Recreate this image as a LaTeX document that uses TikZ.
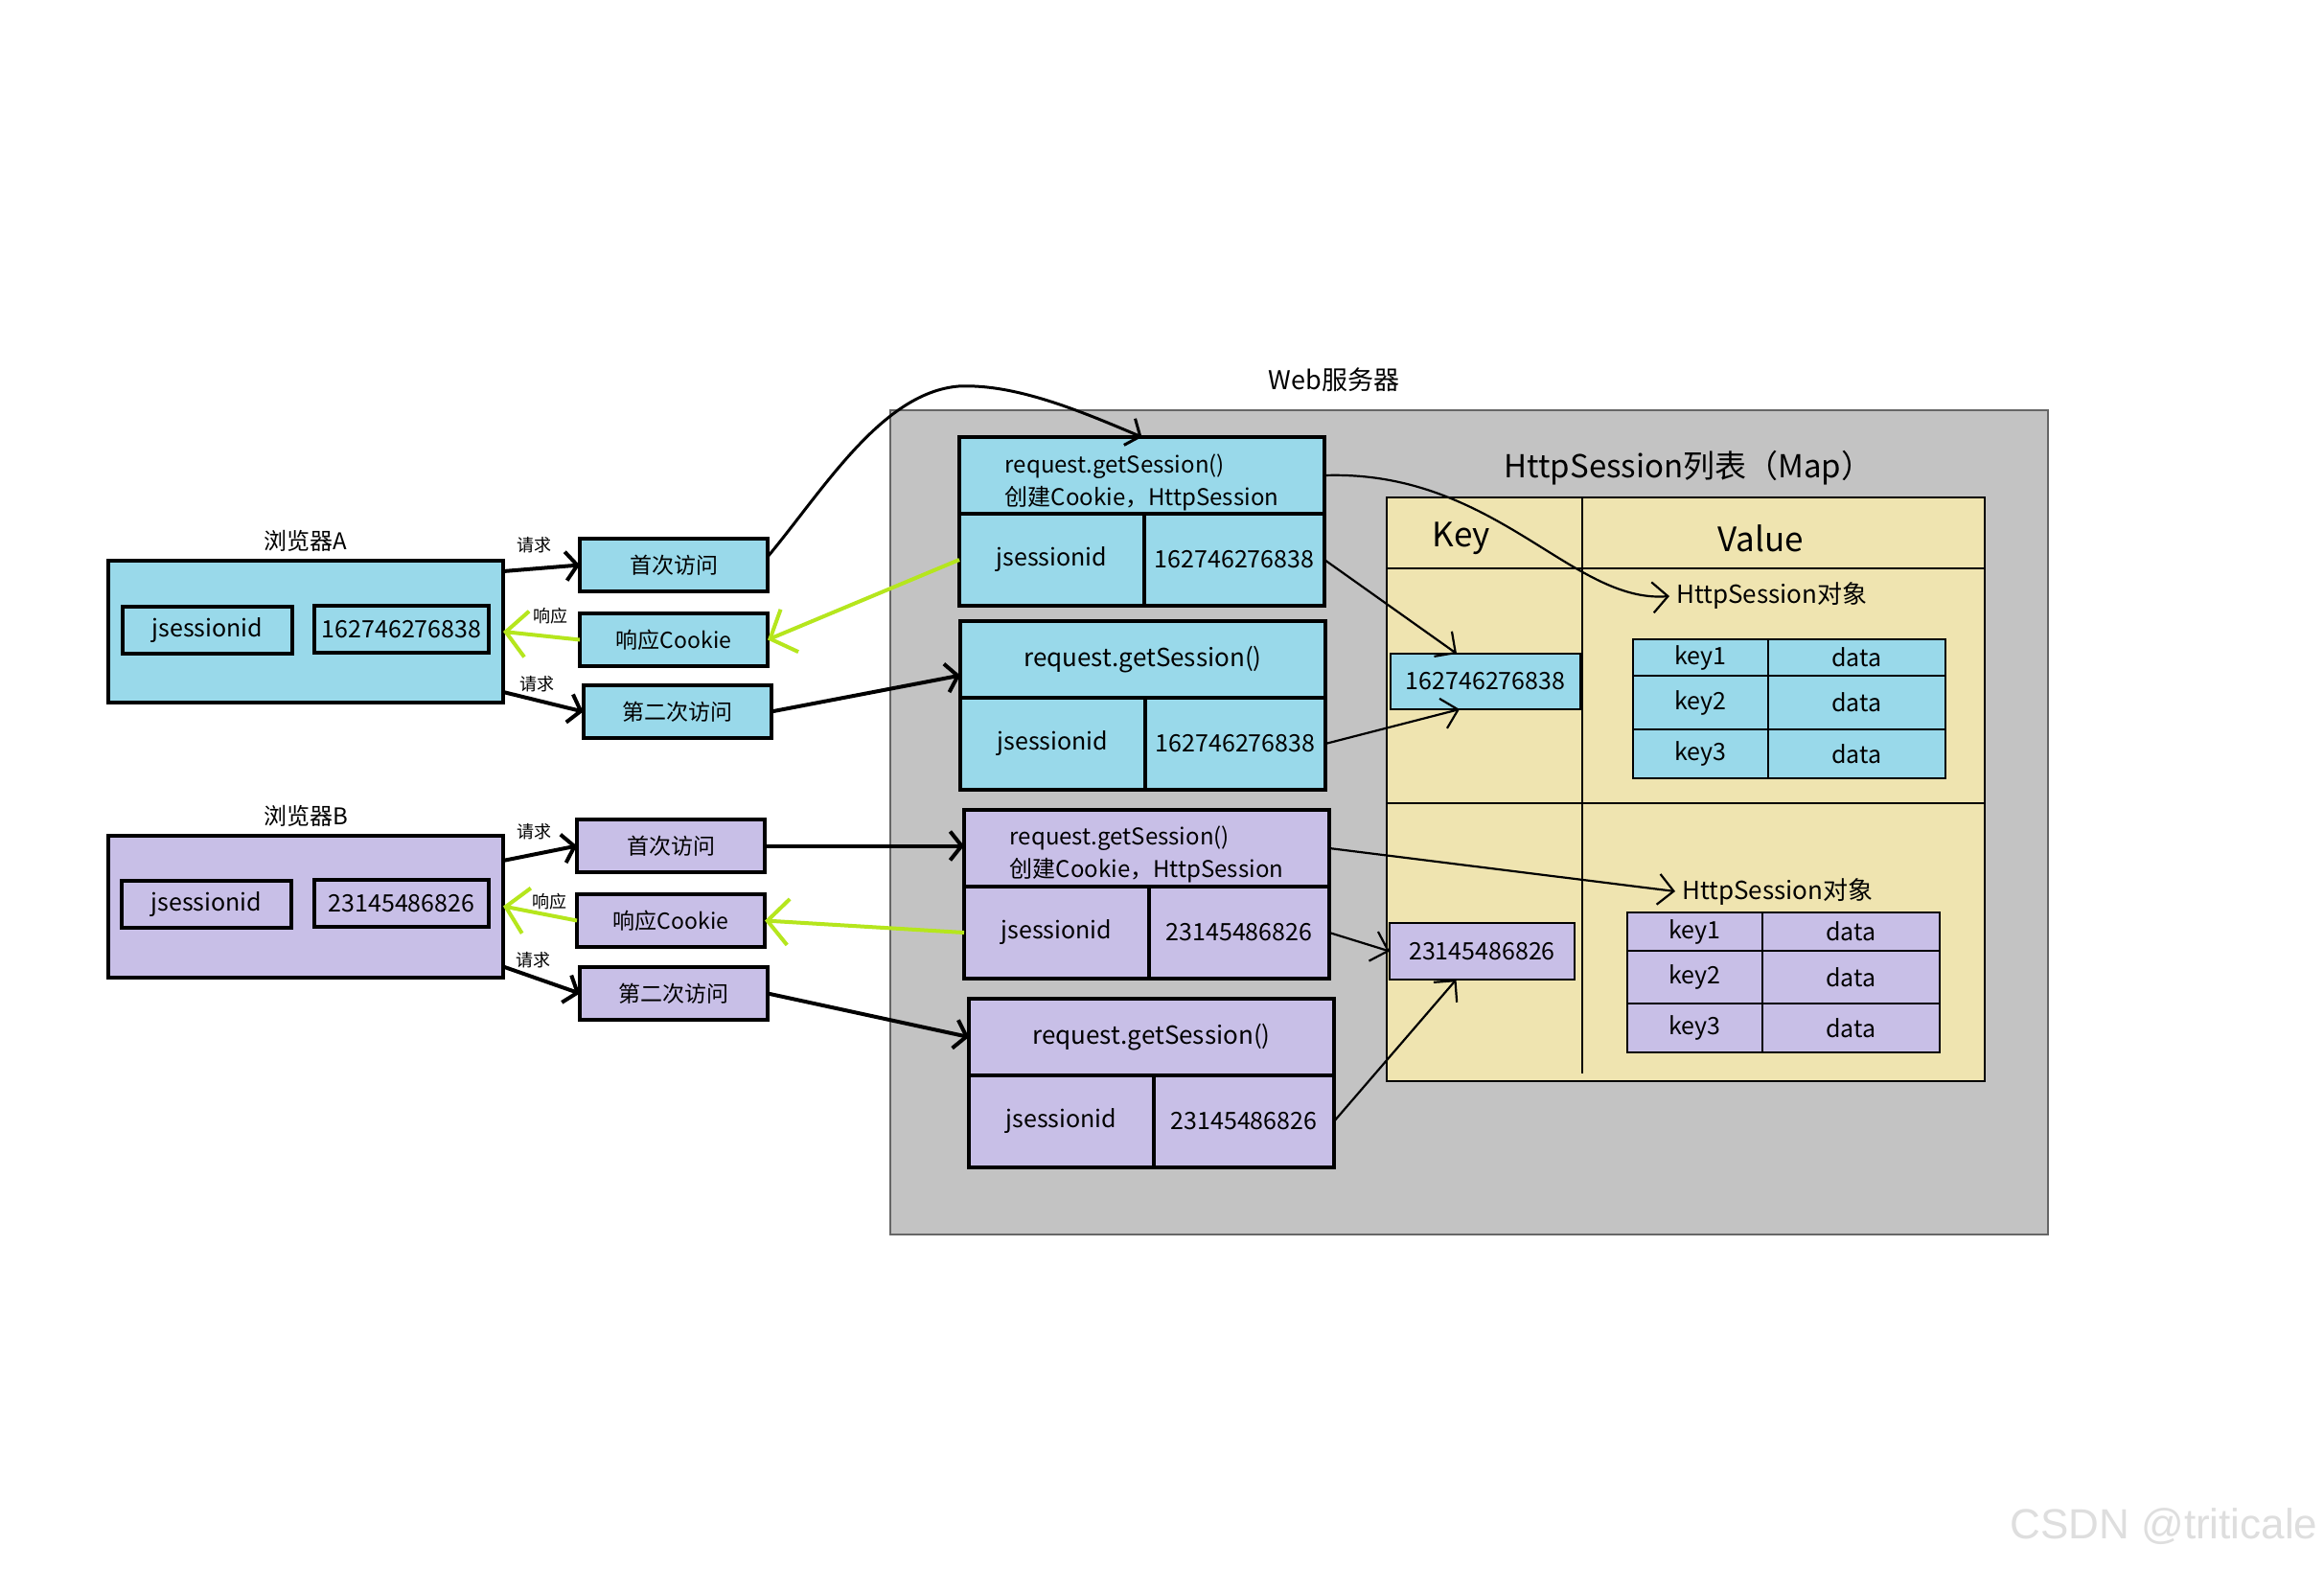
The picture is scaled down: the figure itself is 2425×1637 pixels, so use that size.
\documentclass[tikz,border=0pt]{standalone}
\usepackage{fontspec}
\setmainfont{Noto Sans CJK SC}
\newfontfamily\markfont{Liberation Sans}
\usepackage{tikz}
\usetikzlibrary{positioning,arrows.meta,calc}

\definecolor{pblue}{HTML}{99D9EA}
\definecolor{ppurple}{HTML}{C8BFE7}
\definecolor{pgray}{HTML}{C3C3C3}
\definecolor{pcream}{HTML}{EFE4B0}
\definecolor{plime}{HTML}{B5E61D}

\begin{document}
\begin{tikzpicture}[
    x=0.5pt, y=-0.5pt,
    font=\fontsize{12.5}{15}\selectfont,
    box/.style={draw, line width=2pt, outer sep=0pt, inner sep=0pt, align=center},
    abox/.style={box, fill=pblue},
    bbox/.style={box, fill=ppurple},
    browser/.style={minimum width=206pt, minimum height=74pt},
    idbox/.style={minimum width=88.5pt, minimum height=24.5pt},
    numbox/.style={minimum width=91pt, minimum height=24.5pt},
    visit/.style={minimum width=98pt, minimum height=27.5pt, font=\fontsize{11.5}{14}\selectfont},
    head/.style={anchor=north west, minimum width=190.5pt, minimum height=40pt},
    idcell/.style={anchor=north west, minimum width=96.5pt, minimum height=48pt},
    numcell/.style={anchor=north west, minimum width=94pt, minimum height=48pt},
    thinbox/.style={draw, line width=0.7pt, outer sep=0pt, inner sep=0pt, align=center},
    kcol/.style={thinbox, anchor=north west, minimum width=70.5pt},
    dcol/.style={thinbox, anchor=north west, minimum width=92.5pt},
    tag/.style={font=\fontsize{9}{11}\selectfont, inner sep=1pt},
    req/.style={-{Straight Barb[length=6pt,width=15pt]}, line width=2pt},
    resp/.style={-{Straight Barb[length=11pt,width=24pt]}, line width=2pt, plime},
    link/.style={-{Straight Barb[length=8pt,width=16pt]}, line width=1.1pt},
    bigtext/.style={font=\fontsize{17.5}{20}\selectfont},
  ]
  \fill[white] (0,0) rectangle (2425,1637);
  \useasboundingbox (0,0) rectangle (2425,1637);

  % --- web server area ---
  \node[fill=pgray, draw=black!60, line width=0.6pt, anchor=north west, inner sep=0pt,
        outer sep=0pt, minimum width=604pt, minimum height=430pt] (server) at (929,428) {};
  \node[font=\fontsize{13.5}{16}\selectfont] (webname) at (1392,396) {Web服务器};

  % --- HttpSession map ---
  \node[fill=pcream, draw, line width=0.7pt, anchor=north west, inner sep=0pt,
        outer sep=0pt, minimum width=312pt, minimum height=304.5pt] (map) at (1447,519) {};
  \draw[line width=0.7pt] ($(map.north west)+(0,74)$) -- ($(map.north east)+(0,74)$);
  \draw[line width=0.7pt] ($(map.north west)+(0,319)$) -- ($(map.north east)+(0,319)$);
  \draw[line width=0.7pt] ($(map.north west)+(204,0)$) -- ($(map.north west)+(204,601)$);
  \node[bigtext, font=\fontsize{16.5}{20}\selectfont] (maptitle) at (1762,488) {HttpSession列表（Map）};
  \node[bigtext] (keyhead) at (1525,562) {Key};
  \node[bigtext] (valhead) at (1837,562) {Value};

  % --- browser A ---
  \node[abox, browser] (bA) at (319,659) {};
  \node[above=1pt of bA, font=\fontsize{12}{14}\selectfont] (bAname) {浏览器A};
  \node[abox, idbox] (bAid) at (216.5,657.5) {jsessionid};
  \node[abox, numbox] (bAnum) at (419,656.5) {162746276838};

  \node[abox, visit] (fA) at (703,589.5) {首次访问};
  \node[abox, visit] (rA) at (703,667.5) {响应Cookie};
  \node[abox, visit] (sA) at (706.5,742.5) {第二次访问};
  \node[tag] (tA1) at (557,569) {请求};
  \node[tag] (tA2) at (574,643) {响应};
  \node[tag] (tA3) at (560,714) {请求};

  % --- browser B ---
  \node[bbox, browser] (bB) at (319,945.5) {};
  \node[above=1pt of bB, font=\fontsize{12}{14}\selectfont] (bBname) {浏览器B};
  \node[bbox, idbox] (bBid) at (215.5,943.5) {jsessionid};
  \node[bbox, numbox] (bBnum) at (419,942.5) {23145486826};

  \node[bbox, visit] (fB) at (700,882.5) {首次访问};
  \node[bbox, visit] (rB) at (700,960.5) {响应Cookie};
  \node[bbox, visit] (sB) at (703,1036.5) {第二次访问};
  \node[tag] (tB1) at (557,868) {请求};
  \node[tag] (tB2) at (573,941) {响应};
  \node[tag] (tB3) at (556,1002) {请求};

  % --- sessions on the server, A ---
  \node[abox, head, align=left, font=\fontsize{12}{17}\selectfont] (a1) at (1001,456)
    {\rule{0pt}{17.5pt}request.getSession()\\创建Cookie，HttpSession};
  \node[abox, idcell] (a1id) at (a1.south west) {jsessionid};
  \node[abox, numcell] (a1num) at (a1id.north east) {162746276838};

  \node[abox, head, font=\fontsize{13}{16}\selectfont] (a2) at (1002,648) {request.getSession()};
  \node[abox, idcell] (a2id) at (a2.south west) {jsessionid};
  \node[abox, numcell] (a2num) at (a2id.north east) {162746276838};

  % --- sessions on the server, B ---
  \node[bbox, head, align=left, font=\fontsize{12}{17}\selectfont] (b1) at (1006,845)
    {\rule{0pt}{16pt}request.getSession()\\创建Cookie，HttpSession};
  \node[bbox, idcell] (b1id) at (b1.south west) {jsessionid};
  \node[bbox, numcell] (b1num) at (b1id.north east) {23145486826};

  \node[bbox, head, font=\fontsize{13}{16}\selectfont] (b2) at (1011,1042) {request.getSession()};
  \node[bbox, idcell] (b2id) at (b2.south west) {jsessionid};
  \node[bbox, numcell] (b2num) at (b2id.north east) {23145486826};

  % --- map entries: keys ---
  \node[thinbox, fill=pblue, minimum width=99pt, minimum height=29pt] (kA) at (1550,711) {162746276838};
  \node[thinbox, fill=ppurple, minimum width=96.5pt, minimum height=29.5pt] (kB) at (1546.5,992.5) {23145486826};

  % --- map entries: values ---
  \node[anchor=west, font=\fontsize{13}{16}\selectfont] (hsA) at (1742,622) {HttpSession对象};
  \node[kcol, fill=pblue, minimum height=19pt] (tAk1) at (1704,667) {key1};
  \node[dcol, fill=pblue, minimum height=19pt] (tAd1) at (tAk1.north east) {data};
  \node[kcol, fill=pblue, minimum height=28pt] (tAk2) at (tAk1.south west) {key2};
  \node[dcol, fill=pblue, minimum height=28pt] (tAd2) at (tAk2.north east) {data};
  \node[kcol, fill=pblue, minimum height=25.5pt] (tAk3) at (tAk2.south west) {key3};
  \node[dcol, fill=pblue, minimum height=25.5pt] (tAd3) at (tAk3.north east) {data};

  \node[anchor=west, font=\fontsize{13}{16}\selectfont] (hsB) at (1748,930) {HttpSession对象};
  \node[kcol, fill=ppurple, minimum height=20pt] (tBk1) at (1698,952) {key1};
  \node[dcol, fill=ppurple, minimum height=20pt] (tBd1) at (tBk1.north east) {data};
  \node[kcol, fill=ppurple, minimum height=27.5pt] (tBk2) at (tBk1.south west) {key2};
  \node[dcol, fill=ppurple, minimum height=27.5pt] (tBd2) at (tBk2.north east) {data};
  \node[kcol, fill=ppurple, minimum height=25.5pt] (tBk3) at (tBk2.south west) {key3};
  \node[dcol, fill=ppurple, minimum height=25.5pt] (tBd3) at (tBk3.north east) {data};

  % --- arrows: browser A <-> server ---
  \draw[req] (bA.17) -- (fA.west);
  \draw[resp] (rA.west) -- (bA.east);
  \draw[req] (bA.-17) -- (sA.west);
  \draw[req, line width=1.5pt] (fA.5) .. controls (860,510) and (920,410) .. (1000,403)
    .. controls (1060,400) and (1130,430) .. (a1.north);
  \draw[resp] (a1id.west) -- (rA.east);
  \draw[req] (sA.east) -- (a2.185);

  % --- arrows: browser B <-> server ---
  \draw[req] (bB.13) -- (fB.west);
  \draw[resp] (rB.west) -- (bB.east);
  \draw[req] (bB.-17) -- (sB.west);
  \draw[req] (fB.east) -- (fB.east -| b1.west);
  \draw[resp] (b1id.west) -- (rB.east);
  \draw[req] (sB.east) -- (b2.west);

  % --- arrows: sessions into the map ---
  \draw[link] (a1.east) .. controls (1560,490) and (1640,630) .. (hsA.west);
  \draw[link] (a1num.east) -- ($(kA.north)+(-30,0)$);
  \draw[link] (a2num.east) -- ($(kA.south)+(-27,0)$);
  \draw[link] (b1.east) -- (hsB.west);
  \draw[link] (b1num.east) -- (kB.west);
  \draw[link] (b2num.east) -- ($(kB.south)+(-27,0)$);

  % --- watermark ---
  \node[font=\markfont\fontsize{22}{25}\selectfont, text=black!13] (mark) at (2258,1593) {CSDN @triticale};
\end{tikzpicture}
\end{document}
